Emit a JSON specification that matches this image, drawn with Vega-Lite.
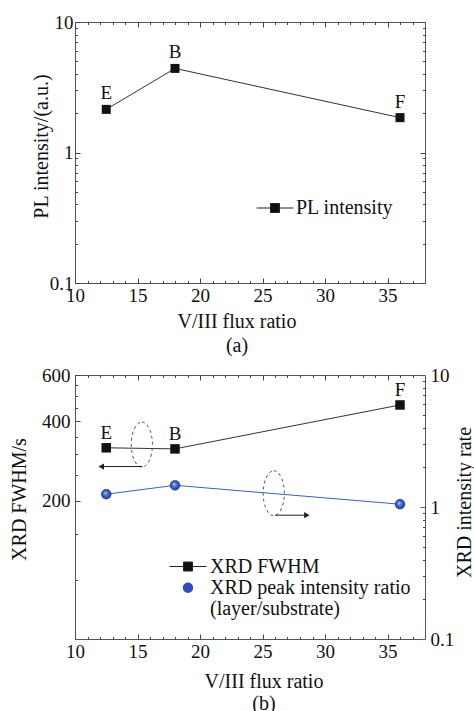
{
  "$schema": "https://vega.github.io/schema/vega-lite/v6.json",
  "background": "white",
  "padding": {"left": 8, "top": 12, "right": 0, "bottom": 0},
  "spacing": 8,
  "resolve": {"scale": {"color": "independent", "shape": "independent"}, "legend": {"color": "independent", "shape": "independent"}},
  "config": {
    "font": "Liberation Serif",
    "view": {"stroke": "#555", "strokeWidth": 1},
    "axis": {"grid": false, "labelFont": "Liberation Serif", "titleFont": "Liberation Serif", "labelColor": "#111", "titleColor": "#111", "titleFontWeight": "normal", "labelFontSize": 19, "titleFontSize": 20, "labelFlush": false, "labelOverlap": false, "domain": false, "tickColor": "#444", "tickWidth": 1, "zindex": 1},
    "legend": {"labelFont": "Liberation Serif", "labelFontSize": 20, "labelColor": "#111", "labelLimit": 400}
  },
  "datasets": {
    "pl": [
      {"ratio": 12.5, "pl": 2.14, "label": "E", "series": "PL intensity"},
      {"ratio": 18, "pl": 4.41, "label": "B", "series": "PL intensity"},
      {"ratio": 36, "pl": 1.85, "label": "F", "series": "PL intensity"}
    ],
    "fwhm": [
      {"ratio": 12.5, "value": 318, "label": "E", "series": "XRD FWHM"},
      {"ratio": 18, "value": 315, "label": "B", "series": "XRD FWHM"},
      {"ratio": 36, "value": 462, "label": "F", "series": "XRD FWHM"}
    ],
    "xrdratio": [
      {"ratio": 12.5, "value": 1.25, "series": "XRD peak intensity ratio"},
      {"ratio": 18, "value": 1.46, "series": "XRD peak intensity ratio"},
      {"ratio": 36, "value": 1.05, "series": "XRD peak intensity ratio"}
    ],
    "ellipse_fwhm": [{"ratio": 15.35, "value": 327}],
    "ellipse_ratio": [{"ratio": 25.9, "value": 1.27}],
    "arrow_fwhm": [{"tail": 15.4, "head": 12.1, "value": 270}],
    "arrow_ratio": [{"tail": 26.0, "head": 28.55, "value": 0.867}]
  },
  "vconcat": [
    {
      "width": 350,
      "height": 261,
      "data": {"name": "pl"},
      "layer": [
        {
          "mark": {"type": "line", "color": "#333", "strokeWidth": 1},
          "encoding": {
            "x": {"field": "ratio", "type": "quantitative", "scale": {"domain": [10, 38], "nice": false, "zero": false}, "axis": null},
            "y": {"field": "pl", "type": "quantitative", "scale": {"type": "log", "domain": [0.1, 10], "nice": false}, "axis": null}
          }
        },
        {
          "mark": {"type": "point", "shape": "square", "filled": true, "size": 81, "opacity": 1},
          "encoding": {
            "x": {"field": "ratio", "type": "quantitative", "scale": {"domain": [10, 38], "nice": false, "zero": false}, "axis": null},
            "y": {"field": "pl", "type": "quantitative", "scale": {"type": "log", "domain": [0.1, 10], "nice": false}, "axis": null},
            "color": {"field": "series", "type": "nominal", "scale": {"domain": ["PL intensity"], "range": ["#111"]},
              "legend": {"title": null, "orient": "none", "legendX": 190, "legendY": 176, "padding": 0, "symbolSize": 81, "labelOffset": 11,
                "symbolType": "M-4.1,0H-1M1,0H4.1M-1,-1H1V1H-1Z", "symbolStrokeColor": "#222", "symbolStrokeWidth": 1}}
          }
        },
        {
          "mark": {"type": "text", "dy": -16, "fontSize": 19, "font": "Liberation Serif", "color": "#111"},
          "encoding": {
            "x": {"field": "ratio", "type": "quantitative", "scale": {"domain": [10, 38], "nice": false, "zero": false}, "axis": null},
            "y": {"field": "pl", "type": "quantitative", "scale": {"type": "log", "domain": [0.1, 10], "nice": false}, "axis": null},
            "text": {"field": "label"}
          }
        },
        {
          "mark": {"type": "point", "opacity": 0},
          "encoding": {
            "x": {"field": "ratio", "type": "quantitative", "scale": {"domain": [10, 38], "nice": false, "zero": false},
              "axis": {"orient": "bottom", "values": [10, 15, 20, 25, 30, 35], "ticks": true, "tickSize": -5, "labelPadding": 8, "title": ["V/III flux ratio", "(a)"], "titleLineHeight": 24.7, "titleX": 161.5, "titleY": 28, "titleBaseline": "top", "titleAlign": "center", "titleAnchor": "middle"}},
            "y": {"field": "pl", "type": "quantitative", "scale": {"type": "log", "domain": [0.1, 10], "nice": false},
              "axis": {"orient": "left", "values": [0.1, 1, 10], "format": "~g", "ticks": true, "tickSize": -5, "labelPadding": 7, "title": "PL intensity/(a.u.)", "titleX": -34, "titleY": 124, "titleBaseline": "middle", "titleAngle": 270, "titleAlign": "center"}}
          }
        },
        {
          "mark": {"type": "point", "opacity": 0},
          "encoding": {
            "x": {"field": "ratio", "type": "quantitative", "scale": {"domain": [10, 38], "nice": false, "zero": false},
              "axis": {"orient": "bottom", "values": [11, 12, 13, 14, 16, 17, 18, 19, 21, 22, 23, 24, 26, 27, 28, 29, 31, 32, 33, 34, 36, 37], "labels": false, "ticks": true, "tickSize": -2.5, "title": null}},
            "y": {"field": "pl", "type": "quantitative", "scale": {"type": "log", "domain": [0.1, 10], "nice": false},
              "axis": {"orient": "left", "values": [0.2, 0.3, 0.4, 0.5, 0.6, 0.7, 0.8, 0.9, 2, 3, 4, 5, 6, 7, 8, 9], "labels": false, "ticks": true, "tickSize": -2.5, "title": null}}
          }
        },
        {
          "mark": {"type": "point", "opacity": 0},
          "encoding": {
            "x": {"field": "ratio", "type": "quantitative", "scale": {"domain": [10, 38], "nice": false, "zero": false},
              "axis": {"orient": "top", "values": [10, 15, 20, 25, 30, 35], "labels": false, "ticks": true, "tickSize": -5, "title": null}},
            "y": {"field": "pl", "type": "quantitative", "scale": {"type": "log", "domain": [0.1, 10], "nice": false},
              "axis": {"orient": "right", "values": [0.1, 1, 10], "labels": false, "ticks": true, "tickSize": -5, "title": null}}
          }
        },
        {
          "mark": {"type": "point", "opacity": 0},
          "encoding": {
            "x": {"field": "ratio", "type": "quantitative", "scale": {"domain": [10, 38], "nice": false, "zero": false},
              "axis": {"orient": "top", "values": [11, 12, 13, 14, 16, 17, 18, 19, 21, 22, 23, 24, 26, 27, 28, 29, 31, 32, 33, 34, 36, 37], "labels": false, "ticks": true, "tickSize": -2.5, "title": null}},
            "y": {"field": "pl", "type": "quantitative", "scale": {"type": "log", "domain": [0.1, 10], "nice": false},
              "axis": {"orient": "right", "values": [0.2, 0.3, 0.4, 0.5, 0.6, 0.7, 0.8, 0.9, 2, 3, 4, 5, 6, 7, 8, 9], "labels": false, "ticks": true, "tickSize": -2.5, "title": null}}
          }
        }
      ],
      "resolve": {"axis": {"x": "independent", "y": "independent"}}
    },
    {
      "width": 350,
      "height": 264,
      "layer": [
        {
          "data": {"name": "fwhm"},
          "mark": {"type": "line", "color": "#333", "strokeWidth": 1},
          "encoding": {
            "x": {"field": "ratio", "type": "quantitative", "scale": {"domain": [10, 38], "nice": false, "zero": false}, "axis": null},
            "y": {"field": "value", "type": "quantitative", "scale": {"type": "log", "domain": [60, 600], "nice": false}, "axis": null}
          }
        },
        {
          "data": {"name": "fwhm"},
          "mark": {"type": "point", "shape": "square", "filled": true, "size": 90, "opacity": 1},
          "encoding": {
            "x": {"field": "ratio", "type": "quantitative", "scale": {"domain": [10, 38], "nice": false, "zero": false}, "axis": null},
            "y": {"field": "value", "type": "quantitative", "scale": {"type": "log", "domain": [60, 600], "nice": false}, "axis": null},
            "color": {"field": "series", "type": "nominal", "scale": {"domain": ["XRD FWHM"], "range": ["#111"]},
              "legend": {"title": null, "orient": "none", "legendX": 103, "legendY": 181.5, "padding": 0, "symbolSize": 81, "labelOffset": 12,
                "symbolType": "M-4.1,0H-1M1,0H4.1M-1,-1H1V1H-1Z", "symbolStrokeColor": "#222", "symbolStrokeWidth": 1}}
          }
        },
        {
          "data": {"name": "fwhm"},
          "mark": {"type": "text", "dy": -15, "fontSize": 19, "font": "Liberation Serif", "color": "#111"},
          "encoding": {
            "x": {"field": "ratio", "type": "quantitative", "scale": {"domain": [10, 38], "nice": false, "zero": false}, "axis": null},
            "y": {"field": "value", "type": "quantitative", "scale": {"type": "log", "domain": [60, 600], "nice": false}, "axis": null},
            "text": {"field": "label"}
          }
        },
        {
          "data": {"name": "xrdratio"},
          "mark": {"type": "line", "color": "#3a5fd0", "strokeWidth": 1},
          "encoding": {
            "x": {"field": "ratio", "type": "quantitative", "scale": {"domain": [10, 38], "nice": false, "zero": false}, "axis": null},
            "y": {"field": "value", "type": "quantitative", "scale": {"type": "log", "domain": [0.1, 10], "nice": false}, "axis": null}
          }
        },
        {
          "data": {"name": "xrdratio"},
          "mark": {"type": "point", "shape": "circle", "filled": true, "size": 95, "opacity": 1, "stroke": "#1a3590", "strokeWidth": 0.6,
            "fill": {"gradient": "radial", "x1": 0.4, "y1": 0.38, "r1": 0, "x2": 0.5, "y2": 0.5, "r2": 0.55, "stops": [{"offset": 0, "color": "#e8eeff"}, {"offset": 0.3, "color": "#5a7de0"}, {"offset": 1, "color": "#132f95"}]}},
          "encoding": {
            "x": {"field": "ratio", "type": "quantitative", "scale": {"domain": [10, 38], "nice": false, "zero": false}, "axis": null},
            "y": {"field": "value", "type": "quantitative", "scale": {"type": "log", "domain": [0.1, 10], "nice": false}, "axis": null}
          }
        },
        {
          "data": {"name": "xrdratio"},
          "mark": {"type": "point", "filled": true, "opacity": 0, "size": 81, "color": "#2a4fc0", "stroke": "#3a5fd0", "strokeWidth": 1},
          "encoding": {
            "x": {"field": "ratio", "type": "quantitative", "scale": {"domain": [10, 38], "nice": false, "zero": false}, "axis": null},
            "y": {"field": "value", "type": "quantitative", "scale": {"type": "log", "domain": [0.1, 10], "nice": false}, "axis": null},
            "shape": {"field": "series", "type": "nominal", "scale": {"domain": ["XRD peak intensity ratio", "(layer/substrate)"], "range": ["M-4.1,0H-1.15M1.15,0H4.1M-1.15,0A1.15,1.15 0 1,0 1.15,0A1.15,1.15 0 1,0 -1.15,0Z", "M0,0"]},
              "legend": {"title": null, "orient": "none", "legendX": 103, "legendY": 202.8, "padding": 0, "symbolSize": 81, "labelOffset": 12, "rowPadding": 1.3, "symbolOpacity": 1, "symbolStrokeColor": "#3a5fd0", "symbolFillColor": "#2a4fc0", "symbolStrokeWidth": 1}}
          }
        },
        {
          "data": {"name": "ellipse_fwhm"},
          "mark": {"type": "point", "shape": "M0,-1A0.47,1 0 1,1 0,1A0.47,1 0 1,1 0,-1Z", "size": 2025, "filled": false, "stroke": "#555", "strokeWidth": 1, "strokeDash": [3, 3], "opacity": 1},
          "encoding": {
            "x": {"field": "ratio", "type": "quantitative", "scale": {"domain": [10, 38], "nice": false, "zero": false}, "axis": null},
            "y": {"field": "value", "type": "quantitative", "scale": {"type": "log", "domain": [60, 600], "nice": false}, "axis": null}
          }
        },
        {
          "data": {"name": "arrow_fwhm"},
          "mark": {"type": "rule", "color": "#222", "strokeWidth": 1},
          "encoding": {
            "x": {"field": "tail", "type": "quantitative", "scale": {"domain": [10, 38], "nice": false, "zero": false}, "axis": null},
            "x2": {"field": "head"},
            "y": {"field": "value", "type": "quantitative", "scale": {"type": "log", "domain": [60, 600], "nice": false}, "axis": null}
          }
        },
        {
          "data": {"name": "arrow_fwhm"},
          "mark": {"type": "point", "shape": "triangle-left", "size": 40, "filled": true, "color": "#222", "opacity": 1},
          "encoding": {
            "x": {"field": "head", "type": "quantitative", "scale": {"domain": [10, 38], "nice": false, "zero": false}, "axis": null},
            "y": {"field": "value", "type": "quantitative", "scale": {"type": "log", "domain": [60, 600], "nice": false}, "axis": null}
          }
        },
        {
          "data": {"name": "ellipse_ratio"},
          "mark": {"type": "point", "shape": "M0,-1A0.47,1 0 1,1 0,1A0.47,1 0 1,1 0,-1Z", "size": 2025, "filled": false, "stroke": "#555", "strokeWidth": 1, "strokeDash": [3, 3], "opacity": 1},
          "encoding": {
            "x": {"field": "ratio", "type": "quantitative", "scale": {"domain": [10, 38], "nice": false, "zero": false}, "axis": null},
            "y": {"field": "value", "type": "quantitative", "scale": {"type": "log", "domain": [0.1, 10], "nice": false}, "axis": null}
          }
        },
        {
          "data": {"name": "arrow_ratio"},
          "mark": {"type": "rule", "color": "#222", "strokeWidth": 1},
          "encoding": {
            "x": {"field": "tail", "type": "quantitative", "scale": {"domain": [10, 38], "nice": false, "zero": false}, "axis": null},
            "x2": {"field": "head"},
            "y": {"field": "value", "type": "quantitative", "scale": {"type": "log", "domain": [0.1, 10], "nice": false}, "axis": null}
          }
        },
        {
          "data": {"name": "arrow_ratio"},
          "mark": {"type": "point", "shape": "triangle-right", "size": 40, "filled": true, "color": "#222", "opacity": 1},
          "encoding": {
            "x": {"field": "head", "type": "quantitative", "scale": {"domain": [10, 38], "nice": false, "zero": false}, "axis": null},
            "y": {"field": "value", "type": "quantitative", "scale": {"type": "log", "domain": [0.1, 10], "nice": false}, "axis": null}
          }
        },
        {
          "data": {"name": "fwhm"},
          "mark": {"type": "point", "opacity": 0},
          "encoding": {
            "x": {"field": "ratio", "type": "quantitative", "scale": {"domain": [10, 38], "nice": false, "zero": false},
              "axis": {"orient": "bottom", "values": [10, 15, 20, 25, 30, 35], "ticks": true, "tickSize": -5, "labelPadding": 8, "title": ["V/III flux ratio", "(b)"], "titleLineHeight": 22.5, "titleX": 188.5, "titleY": 32, "titleBaseline": "top", "titleAlign": "center", "titleAnchor": "middle"}},
            "y": {"field": "value", "type": "quantitative", "scale": {"type": "log", "domain": [60, 600], "nice": false},
              "axis": {"orient": "left", "values": [200, 400, 600], "ticks": true, "tickSize": -5, "labelPadding": 10, "title": "XRD FWHM/s", "titleX": -56, "titleY": 124, "titleBaseline": "middle", "titleAngle": 270, "titleAlign": "center"}}
          }
        },
        {
          "data": {"name": "xrdratio"},
          "mark": {"type": "point", "opacity": 0},
          "encoding": {
            "x": {"field": "ratio", "type": "quantitative", "scale": {"domain": [10, 38], "nice": false, "zero": false}, "axis": null},
            "y": {"field": "value", "type": "quantitative", "scale": {"type": "log", "domain": [0.1, 10], "nice": false},
              "axis": {"orient": "right", "values": [0.1, 1, 10], "format": "~g", "ticks": true, "tickSize": -5, "tickColor": "#3a5fd0", "labelPadding": 10, "title": "XRD intensity rate", "titleX": 39.5, "titleY": 127, "titleBaseline": "middle", "titleAngle": 270, "titleAlign": "center"}}
          }
        },
        {
          "data": {"name": "fwhm"},
          "mark": {"type": "point", "opacity": 0},
          "encoding": {
            "x": {"field": "ratio", "type": "quantitative", "scale": {"domain": [10, 38], "nice": false, "zero": false},
              "axis": {"orient": "bottom", "values": [11, 12, 13, 14, 16, 17, 18, 19, 21, 22, 23, 24, 26, 27, 28, 29, 31, 32, 33, 34, 36, 37], "labels": false, "ticks": true, "tickSize": -2.5, "title": null}},
            "y": {"field": "value", "type": "quantitative", "scale": {"type": "log", "domain": [60, 600], "nice": false},
              "axis": {"orient": "left", "values": [100, 150, 250, 300, 350, 450, 500, 550], "labels": false, "ticks": true, "tickSize": -2.5, "title": null}}
          }
        },
        {
          "data": {"name": "xrdratio"},
          "mark": {"type": "point", "opacity": 0},
          "encoding": {
            "x": {"field": "ratio", "type": "quantitative", "scale": {"domain": [10, 38], "nice": false, "zero": false},
              "axis": {"orient": "top", "values": [10, 15, 20, 25, 30, 35], "labels": false, "ticks": true, "tickSize": -5, "title": null}},
            "y": {"field": "value", "type": "quantitative", "scale": {"type": "log", "domain": [0.1, 10], "nice": false},
              "axis": {"orient": "right", "values": [0.2, 0.3, 0.4, 0.5, 0.6, 0.7, 0.8, 0.9, 2, 3, 4, 5, 6, 7, 8, 9], "labels": false, "ticks": true, "tickSize": -2.5, "title": null}}
          }
        },
        {
          "data": {"name": "xrdratio"},
          "mark": {"type": "point", "opacity": 0},
          "encoding": {
            "x": {"field": "ratio", "type": "quantitative", "scale": {"domain": [10, 38], "nice": false, "zero": false},
              "axis": {"orient": "top", "values": [11, 12, 13, 14, 16, 17, 18, 19, 21, 22, 23, 24, 26, 27, 28, 29, 31, 32, 33, 34, 36, 37], "labels": false, "ticks": true, "tickSize": -2.5, "title": null}},
            "y": {"field": "value", "type": "quantitative", "scale": {"type": "log", "domain": [60, 600], "nice": false},
              "axis": null}
          }
        }
      ],
      "resolve": {"scale": {"y": "independent"}, "axis": {"x": "independent", "y": "independent"}}
    }
  ]
}
